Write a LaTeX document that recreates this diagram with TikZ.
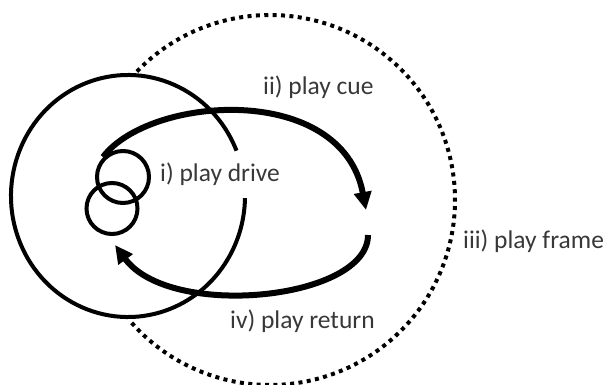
\documentclass[tikz,border=0pt]{standalone}
\usepackage{fontspec}
\setmainfont{Carlito}
\usetikzlibrary{arrows.meta}
\begin{document}
\begin{tikzpicture}[x=1pt,y=1pt,
  lbl/.style={font=\fontsize{25.5}{30}\selectfont, text=black!78, inner sep=0, anchor=base west},
  ring/.style={line width=4pt},
  flow/.style={line width=6pt, -{Triangle[length=18pt,width=17pt]}},
  dotring/.style={line width=4pt, dash pattern=on 4pt off 4.4pt}]
\useasboundingbox (0,0) rectangle (611,-385);
% play frame (dotted)
\draw[dotring] (270,-200) ++(136:185pt) arc[start angle=136,end angle=-139.5,radius=185pt];
% big solid ring
\draw[ring] (128,-196) ++(22:117pt and 121pt) arc[start angle=22,end angle=359,x radius=117pt,y radius=121pt];
% small rings
\node[circle, draw, ring, minimum size=52pt, inner sep=0] (d1) at (123,-177) {};
\node[circle, draw, ring, minimum size=51pt, inner sep=0] (d2) at (112,-208.5) {};
% arrows
\coordinate (cueS) at (103,-157);
\coordinate (cueE) at (366,-210);
\coordinate (retS) at (368,-235);
\coordinate (retE) at (115,-245);
\draw[flow] (cueS) .. controls (150,-95) and (342,-82) .. (cueE);
\draw[flow] (retS) .. controls (368,-300) and (170,-320) .. (retE);
% labels
\node[lbl] (cue) at (263,-95) {ii) play cue};
\node[lbl] (drive) at (160,-182) {i) play drive};
\node[lbl] (frm) at (463,-248) {iii) play frame};
\node[lbl] (ret) at (230,-328) {iv) play return};
\end{tikzpicture}
\end{document}
